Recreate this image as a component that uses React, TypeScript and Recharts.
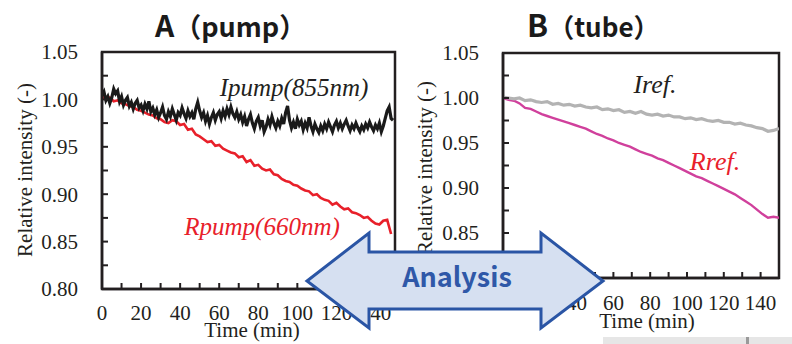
import React from 'react';
import { LineChart, Line, XAxis, YAxis, ReferenceArea } from 'recharts';

// ---------- Data ----------
const IPUMP_STEP = 1; // min
const ipumpValues = [
  1.004, 1.008, 0.999, 1.003, 0.996, 1.002, 1.011, 1.006, 1.009, 0.998,
  1.003, 0.994, 0.999, 1.002, 0.993, 0.997, 0.990, 0.996, 0.999, 0.991,
  0.994, 0.988, 0.995, 0.990, 0.998, 0.987, 0.991, 0.984, 0.989, 0.981,
  0.986, 0.992, 0.983, 0.979, 0.987, 0.982, 0.990, 0.984, 0.978, 0.986,
  0.983, 0.991, 0.985, 0.980, 0.988, 0.982, 0.986, 0.979, 0.990, 0.997,
  0.988, 0.981, 0.986, 0.977, 0.983, 0.974, 0.981, 0.986, 0.978, 0.984,
  0.987, 0.980, 0.988, 0.982, 0.990, 0.984, 0.992, 0.985, 0.981, 0.987,
  0.979, 0.984, 0.976, 0.982, 0.972, 0.979, 0.984, 0.975, 0.969, 0.977,
  0.981, 0.972, 0.978, 0.966, 0.971, 0.979, 0.973, 0.982, 0.975, 0.970,
  0.977, 0.972, 0.980, 0.974, 0.986, 0.993, 0.978, 0.970, 0.976, 0.969,
  0.979, 0.973, 0.977, 0.968, 0.975, 0.970, 0.981, 0.972, 0.966, 0.974,
  0.969, 0.965, 0.972, 0.967, 0.974, 0.969, 0.976, 0.971, 0.966, 0.973,
  0.977, 0.970, 0.975, 0.969, 0.974, 0.978, 0.972, 0.967, 0.973, 0.969,
  0.975, 0.970, 0.966, 0.972, 0.968, 0.974, 0.970, 0.976, 0.971, 0.967,
  0.973, 0.969, 0.975, 0.966, 0.972, 0.980, 0.988, 0.992, 0.980, 0.978,
];

const RPUMP_STEP = 2; // min
const rpumpValues = [
  1.003, 1.000, 1.002, 0.998, 0.999, 0.996, 0.995, 0.993, 0.992, 0.989,
  0.988, 0.986, 0.984, 0.983, 0.980, 0.979, 0.976, 0.975, 0.978, 0.977,
  0.973, 0.974, 0.968, 0.969, 0.963, 0.961, 0.958, 0.955, 0.956, 0.951,
  0.952, 0.948, 0.946, 0.944, 0.943, 0.939, 0.940, 0.934, 0.936, 0.930,
  0.931, 0.927, 0.925, 0.926, 0.921, 0.920, 0.916, 0.914, 0.913, 0.910,
  0.909, 0.906, 0.904, 0.903, 0.899, 0.900, 0.896, 0.894, 0.893, 0.889,
  0.891, 0.887, 0.884, 0.885, 0.881, 0.880, 0.878, 0.875, 0.876, 0.872,
  0.869, 0.868, 0.872, 0.873, 0.858,
];

const REF_STEP = 3; // min
const irefValues = [
  1.001, 1.000, 0.999, 1.000, 0.997, 0.998, 0.996, 0.995, 0.996, 0.993,
  0.994, 0.992, 0.993, 0.991, 0.992, 0.990, 0.989, 0.990, 0.987, 0.988,
  0.986, 0.987, 0.984, 0.985, 0.983, 0.985, 0.982, 0.981, 0.982, 0.980,
  0.981, 0.979, 0.979, 0.977, 0.978, 0.976, 0.977, 0.975, 0.974, 0.975,
  0.973, 0.973, 0.971, 0.972, 0.970, 0.969, 0.967, 0.966, 0.963, 0.964,
  0.966,
];
const rrefValues = [
  1.000, 0.998, 0.997, 0.994, 0.989, 0.988, 0.985, 0.982, 0.980, 0.978,
  0.976, 0.974, 0.972, 0.970, 0.968, 0.966, 0.963, 0.960, 0.958, 0.955,
  0.953, 0.950, 0.948, 0.946, 0.943, 0.940, 0.938, 0.936, 0.933, 0.931,
  0.928, 0.925, 0.922, 0.919, 0.916, 0.913, 0.911, 0.908, 0.905, 0.902,
  0.899, 0.896, 0.893, 0.889, 0.885, 0.881, 0.876, 0.871, 0.867, 0.868,
  0.867,
];

const xTicks = [0, 10, 20, 30, 40, 50, 60, 70, 80, 90, 100, 110, 120, 130, 140, 150];
const yTicks = [0.8, 0.825, 0.85, 0.875, 0.9, 0.925, 0.95, 0.975, 1.0, 1.025, 1.05];

const toSeries = (vals: number[], step: number) => vals.map((v, i) => ({ t: i * step, v }));
const ipumpData = toSeries(ipumpValues, IPUMP_STEP);
const rpumpData = toSeries(rpumpValues, RPUMP_STEP);
const irefData = toSeries(irefValues, REF_STEP);
const rrefData = toSeries(rrefValues, REF_STEP);

// ---------- Styling ----------
const SERIF = "'Liberation Serif', 'DejaVu Serif', serif";
const SANS = "'Noto Sans CJK JP', 'Noto Sans', sans-serif";
const INK = '#231f20';
const tickStyle = { fontFamily: SERIF, fontSize: 21, fill: INK };

const xFmt = (v: number) => (v % 20 === 0 && v < 150 ? String(v) : '');
const yFmt = (v: number) => (Math.round(v * 1000) % 50 === 0 ? v.toFixed(2) : '');

type PanelProps = {
  width: number;
  margin: { top: number; right: number; bottom: number; left: number };
  xTickMargin: number;
  yTickMargin: number;
  children: React.ReactNode;
};

function Panel({ width, margin, xTickMargin, yTickMargin, children }: PanelProps) {
  return (
    <LineChart width={width} height={344} margin={margin}>
      <XAxis
        dataKey="t"
        type="number"
        domain={[0, 150]}
        ticks={xTicks}
        interval={0}
        allowDataOverflow
        tickFormatter={xFmt}
        tick={tickStyle}
        tickSize={-6}
        tickMargin={xTickMargin}
        height={30}
        axisLine={{ stroke: INK, strokeWidth: 2.5 }}
        tickLine={{ stroke: INK, strokeWidth: 2 }}
      />
      <YAxis
        type="number"
        domain={[0.8, 1.05]}
        ticks={yTicks}
        interval={0}
        allowDataOverflow
        tickFormatter={yFmt}
        tick={tickStyle}
        tickSize={-6}
        tickMargin={yTickMargin}
        width={100}
        axisLine={{ stroke: INK, strokeWidth: 2.5 }}
        tickLine={{ stroke: INK, strokeWidth: 2 }}
      />
      <ReferenceArea x1={0} x2={150} y1={0.8} y2={1.05} fill="none" stroke={INK} strokeWidth={2.5} />
      {children}
    </LineChart>
  );
}

export default function App() {
  return (
    <div style={{ position: 'absolute', left: 0, top: 0, width: 792, height: 344, background: '#fff', overflow: 'hidden' }}>
      <div style={{ position: 'absolute', left: 0, top: 0 }}>
        <Panel width={400} margin={{ top: 52, right: 5, bottom: 25, left: 2 }} xTickMargin={22} yTickMargin={30}>
          <Line data={rpumpData} dataKey="v" stroke="#e8202a" strokeWidth={2.6} dot={false} isAnimationActive={false} />
          <Line data={ipumpData} dataKey="v" stroke="#1a1a1a" strokeWidth={3.2} dot={false} isAnimationActive={false} />
        </Panel>
      </div>
      <div style={{ position: 'absolute', left: 400, top: 0 }}>
        <Panel width={392} margin={{ top: 53, right: 13, bottom: 36, left: 3 }} xTickMargin={23} yTickMargin={30}>
          <Line data={rrefData} dataKey="v" stroke="#d0409c" strokeWidth={2.4} dot={false} isAnimationActive={false} />
          <Line data={irefData} dataKey="v" stroke="#b3b3b3" strokeWidth={3.2} dot={false} isAnimationActive={false} />
        </Panel>
      </div>
      <svg width={792} height={344} style={{ position: 'absolute', left: 0, top: 0, pointerEvents: 'none' }}>
        {/* titles */}
        <text x={155} y={37} fontFamily={SANS} fontWeight={700} fill="#1a1a1a">
          <tspan fontSize={30}>A</tspan>
          <tspan fontSize={27}>（pump）</tspan>
        </text>
        <text x={527} y={37} fontFamily={SANS} fontWeight={700} fill="#1a1a1a">
          <tspan fontSize={31}>B</tspan>
          <tspan fontSize={26}>（tube）</tspan>
        </text>
        {/* axis labels */}
        <text x={252} y={337} textAnchor="middle" fontFamily={SERIF} fontSize={21} fill={INK}>Time (min)</text>
        <text x={647} y={328} textAnchor="middle" fontFamily={SERIF} fontSize={21} fill={INK}>Time (min)</text>
        <text transform="translate(32,170) rotate(-90)" textAnchor="middle" fontFamily={SERIF} fontSize={21} fill={INK}>Relative intensity (-)</text>
        <text transform="translate(432,168) rotate(-90)" textAnchor="middle" fontFamily={SERIF} fontSize={21} fill={INK}>Relative intensity (-)</text>
        {/* series annotations */}
        <text x={294} y={96} textAnchor="middle" fontFamily={SERIF} fontStyle="italic" fontSize={25} fill="#231f20">Ipump(855nm)</text>
        <text x={262} y={235} textAnchor="middle" fontFamily={SERIF} fontStyle="italic" fontSize={25} fill="#e8202a">Rpump(660nm)</text>
        <text x={655} y={93} textAnchor="middle" fontFamily={SERIF} fontStyle="italic" fontSize={26} fill="#231f20">Iref.</text>
        <text x={715} y={170} textAnchor="middle" fontFamily={SERIF} fontStyle="italic" fontSize={26} fill="#e8202a">Rref.</text>
        {/* bottom-right strip */}
        <rect x={603} y={337} width={189} height={7} fill="#e6e6e6" />
        <rect x={746} y={337} width={3} height={7} fill="#9a9a9a" />
        {/* double arrow */}
        <polygon
          points="307,281 369,233 369,252 541,252 541,233 603,281 541,328 541,309 369,309 369,328"
          fill="#d6e0f1"
          stroke="#2a55a5"
          strokeWidth={3}
          strokeLinejoin="miter"
        />
        <text x={457} y={287} textAnchor="middle" fontFamily={SANS} fontWeight={700} fontSize={27} fill="#2f58a8">Analysis</text>
      </svg>
    </div>
  );
}
